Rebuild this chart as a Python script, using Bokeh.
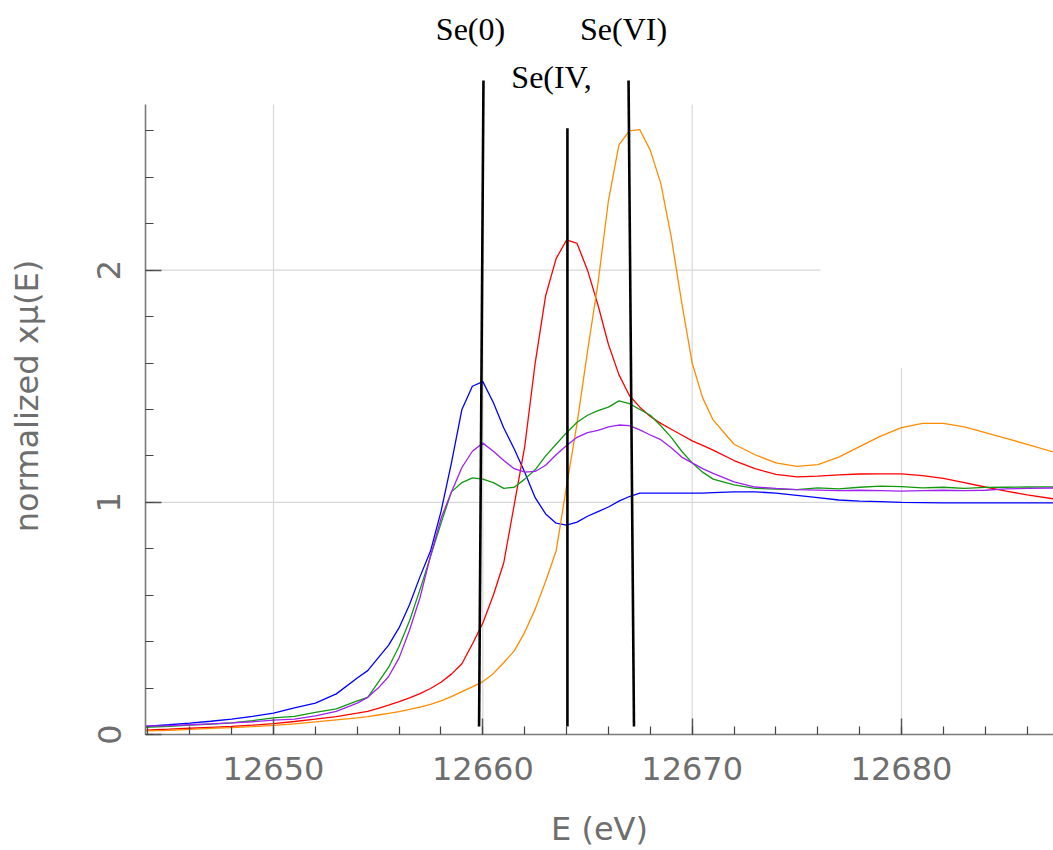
from bokeh.plotting import figure
from bokeh.models import Range1d, SingleIntervalTicker, FixedTicker, LinearAxis
from bokeh.core.properties import value
from bokeh.embed import file_html
from bokeh.resources import INLINE

# ---------------- data ----------------
energy = [12643.5, 12645, 12646, 12647, 12648, 12649, 12650, 12651, 12652, 12653,
          12654, 12654.5, 12655, 12655.5, 12656, 12656.5, 12657, 12657.5, 12658, 12658.5,
          12659, 12659.5, 12660, 12660.5, 12661, 12661.5, 12662, 12662.5, 12663, 12663.5,
          12664, 12664.5, 12665, 12665.5, 12666, 12666.5, 12667, 12667.5, 12668, 12668.5,
          12669, 12669.5, 12670, 12670.5, 12671, 12672, 12673, 12674, 12675, 12676,
          12677, 12678, 12679, 12680, 12681, 12682, 12683, 12684, 12685, 12686, 12687.5]

se0_ref = [0.032, 0.042, 0.049, 0.057, 0.066, 0.078, 0.092, 0.115, 0.135, 0.175,
           0.243, 0.275, 0.33, 0.385, 0.46, 0.56, 0.68, 0.79, 0.96, 1.17,
           1.40, 1.50, 1.52, 1.43, 1.32, 1.23, 1.13, 1.02, 0.95, 0.91,
           0.902, 0.915, 0.94, 0.96, 0.98, 1.005, 1.025, 1.04, 1.04, 1.04,
           1.04, 1.04, 1.04, 1.04, 1.042, 1.045, 1.045, 1.04, 1.03, 1.02,
           1.01, 1.005, 1.003, 1.0, 0.999, 0.998, 0.998, 0.998, 0.998, 0.998, 0.998]

se4_ref = [0.018, 0.023, 0.027, 0.031, 0.035, 0.04, 0.047, 0.056, 0.066, 0.077,
           0.092, 0.10, 0.113, 0.127, 0.142, 0.158, 0.176, 0.198, 0.225, 0.26,
           0.305, 0.39, 0.48, 0.60, 0.74, 0.99, 1.24, 1.60, 1.89, 2.05,
           2.13, 2.115, 2.0, 1.85, 1.68, 1.55, 1.46, 1.41, 1.37, 1.34,
           1.315, 1.29, 1.265, 1.245, 1.225, 1.18, 1.145, 1.12, 1.11, 1.113,
           1.118, 1.122, 1.123, 1.123, 1.115, 1.103, 1.085, 1.066, 1.048, 1.032, 1.012]

se6_ref = [0.015, 0.018, 0.022, 0.026, 0.030, 0.034, 0.039, 0.046, 0.054, 0.063,
           0.072, 0.077, 0.084, 0.091, 0.099, 0.108, 0.118, 0.13, 0.145, 0.163,
           0.185, 0.205, 0.228, 0.262, 0.31, 0.36, 0.44, 0.54, 0.66, 0.79,
           1.07, 1.34, 1.65, 1.944, 2.30, 2.54, 2.60, 2.605, 2.516, 2.374,
           2.142, 1.86, 1.60, 1.45, 1.355, 1.25, 1.205, 1.17, 1.155, 1.162,
           1.195, 1.24, 1.285, 1.322, 1.34, 1.34, 1.325, 1.30, 1.275, 1.25, 1.21]

sample_a = [0.03, 0.035, 0.04, 0.045, 0.05, 0.06, 0.072, 0.078, 0.095, 0.11,
            0.145, 0.16, 0.225, 0.29, 0.38, 0.49, 0.625, 0.766, 0.91, 1.045,
            1.085, 1.105, 1.10, 1.085, 1.06, 1.065, 1.10, 1.14, 1.20, 1.25,
            1.30, 1.345, 1.375, 1.395, 1.41, 1.437, 1.425, 1.40, 1.375, 1.33,
            1.28, 1.22, 1.17, 1.13, 1.10, 1.075, 1.06, 1.057, 1.055, 1.062,
            1.058, 1.065, 1.07, 1.068, 1.062, 1.065, 1.06, 1.064, 1.065, 1.066, 1.067]

sample_b = [0.035, 0.038, 0.042, 0.046, 0.05, 0.055, 0.062, 0.066, 0.08, 0.1,
            0.135, 0.16, 0.2, 0.25, 0.33, 0.45, 0.59, 0.77, 0.93, 1.045,
            1.15, 1.22, 1.255, 1.22, 1.18, 1.145, 1.13, 1.133, 1.16, 1.205,
            1.245, 1.28, 1.30, 1.31, 1.325, 1.333, 1.33, 1.312, 1.29, 1.27,
            1.235, 1.195, 1.17, 1.145, 1.125, 1.088, 1.066, 1.06, 1.055, 1.053,
            1.05, 1.052, 1.05, 1.048, 1.05, 1.052, 1.05, 1.052, 1.058, 1.06, 1.062]

series_names = ["Se(0) ref", "Se(IV) ref", "Se(VI) ref", "sample A", "sample B"]
series_colors = ["#0000ff", "#ff0000", "#ff8c00", "#119911", "#a020f0"]

marker_labels = ["Se(0)", "Se(IV,", "Se(VI)"]
marker_pos = [12659.41, 12663.28, 12666.72]

# ---------------- figure ----------------
X0, X1 = 12643.885, 12687.26
p = figure(width=1053, height=850, output_backend="svg", toolbar_location=None,
           x_range=Range1d(X0, X1), y_range=Range1d(0, 2.916),
           min_border_left=145, min_border_right=0, min_border_top=57,
           min_border_bottom=115)
xa = p.below[0]
ya = p.left[0]
p.outline_line_color = None
p.xgrid.visible = False
p.ygrid.visible = False
p.background_fill_color = "white"

grid_col = "#d8d8d8"
# partial grid lines as in the original
p.segment(x0=[12650, 12660, 12670, 12680, X0, X0],
          y0=[0, 0, 0, 0, 1, 2],
          x1=[12650, 12660, 12670, 12680, X1, 12676.13],
          y1=[2.714, 2.714, 2.714, 1.578, 1, 2],
          line_color=grid_col, line_width=1.2)

ys = [se0_ref, se4_ref, se6_ref, sample_a, sample_b]
for name, col, yv in zip(series_names, series_colors, ys):
    p.line(energy, yv, line_color=col, line_width=1.3)

# edge-position marker lines
p.segment(x0=[12660.03, 12664.04, 12666.96], y0=[2.817, 2.611, 2.817],
          x1=[12659.82, 12664.04, 12667.22], y1=[0.034, 0.034, 0.034],
          line_color="black", line_width=2.6)
p.text(x=[marker_pos[1]], y=[2.83], text=[marker_labels[1]],
       text_font=value("Liberation Serif"), text_font_size="32px",
       text_align="center", text_baseline="middle", text_color="black")

# upper marker labels as an axis above the frame
top_axis = LinearAxis(ticker=FixedTicker(ticks=[marker_pos[0], marker_pos[2]]),
                      major_label_overrides={marker_pos[0]: marker_labels[0],
                                             marker_pos[2]: marker_labels[2]},
                      axis_line_color=None, major_tick_line_color=None,
                      minor_tick_line_color=None, major_tick_in=0, major_tick_out=0,
                      minor_tick_in=0, minor_tick_out=0,
                      major_label_text_font="Liberation Serif",
                      major_label_text_font_size="32px",
                      major_label_text_color="black", major_label_standoff=11)
p.add_layout(top_axis, "above")

axis_col = "#7a7a7a"
lab_col = "#6e6e6e"
for ax in (xa, ya):
    ax.axis_line_color = axis_col
    ax.axis_line_width = 1.6
    ax.major_tick_in = 16
    ax.major_tick_out = 0
    ax.minor_tick_in = 8
    ax.minor_tick_out = 0
    ax.major_tick_line_color = "#555555"
    ax.minor_tick_line_color = "#444444"
    ax.major_tick_line_width = 1.4
    ax.minor_tick_line_width = 1.2
    ax.major_label_text_font = "DejaVu Sans"
    ax.major_label_text_font_size = "32px"
    ax.major_label_text_color = lab_col
    ax.axis_label_text_font = "DejaVu Sans"
    ax.axis_label_text_font_size = "32px"
    ax.axis_label_text_font_style = "normal"
    ax.axis_label_text_color = lab_col

xa.ticker = SingleIntervalTicker(interval=10, num_minor_ticks=5)
ya.ticker = SingleIntervalTicker(interval=1, num_minor_ticks=5)
ya.bounds = (0, 2.714)
ya.major_label_orientation = "vertical"
xa.major_label_standoff = 22
ya.major_label_standoff = 25
xa.axis_label = "E (eV)"
ya.axis_label = "normalized xμ(E)"
xa.axis_label_standoff = 27
ya.axis_label_standoff = 49

open("out.html", "w").write(file_html(p, INLINE))
